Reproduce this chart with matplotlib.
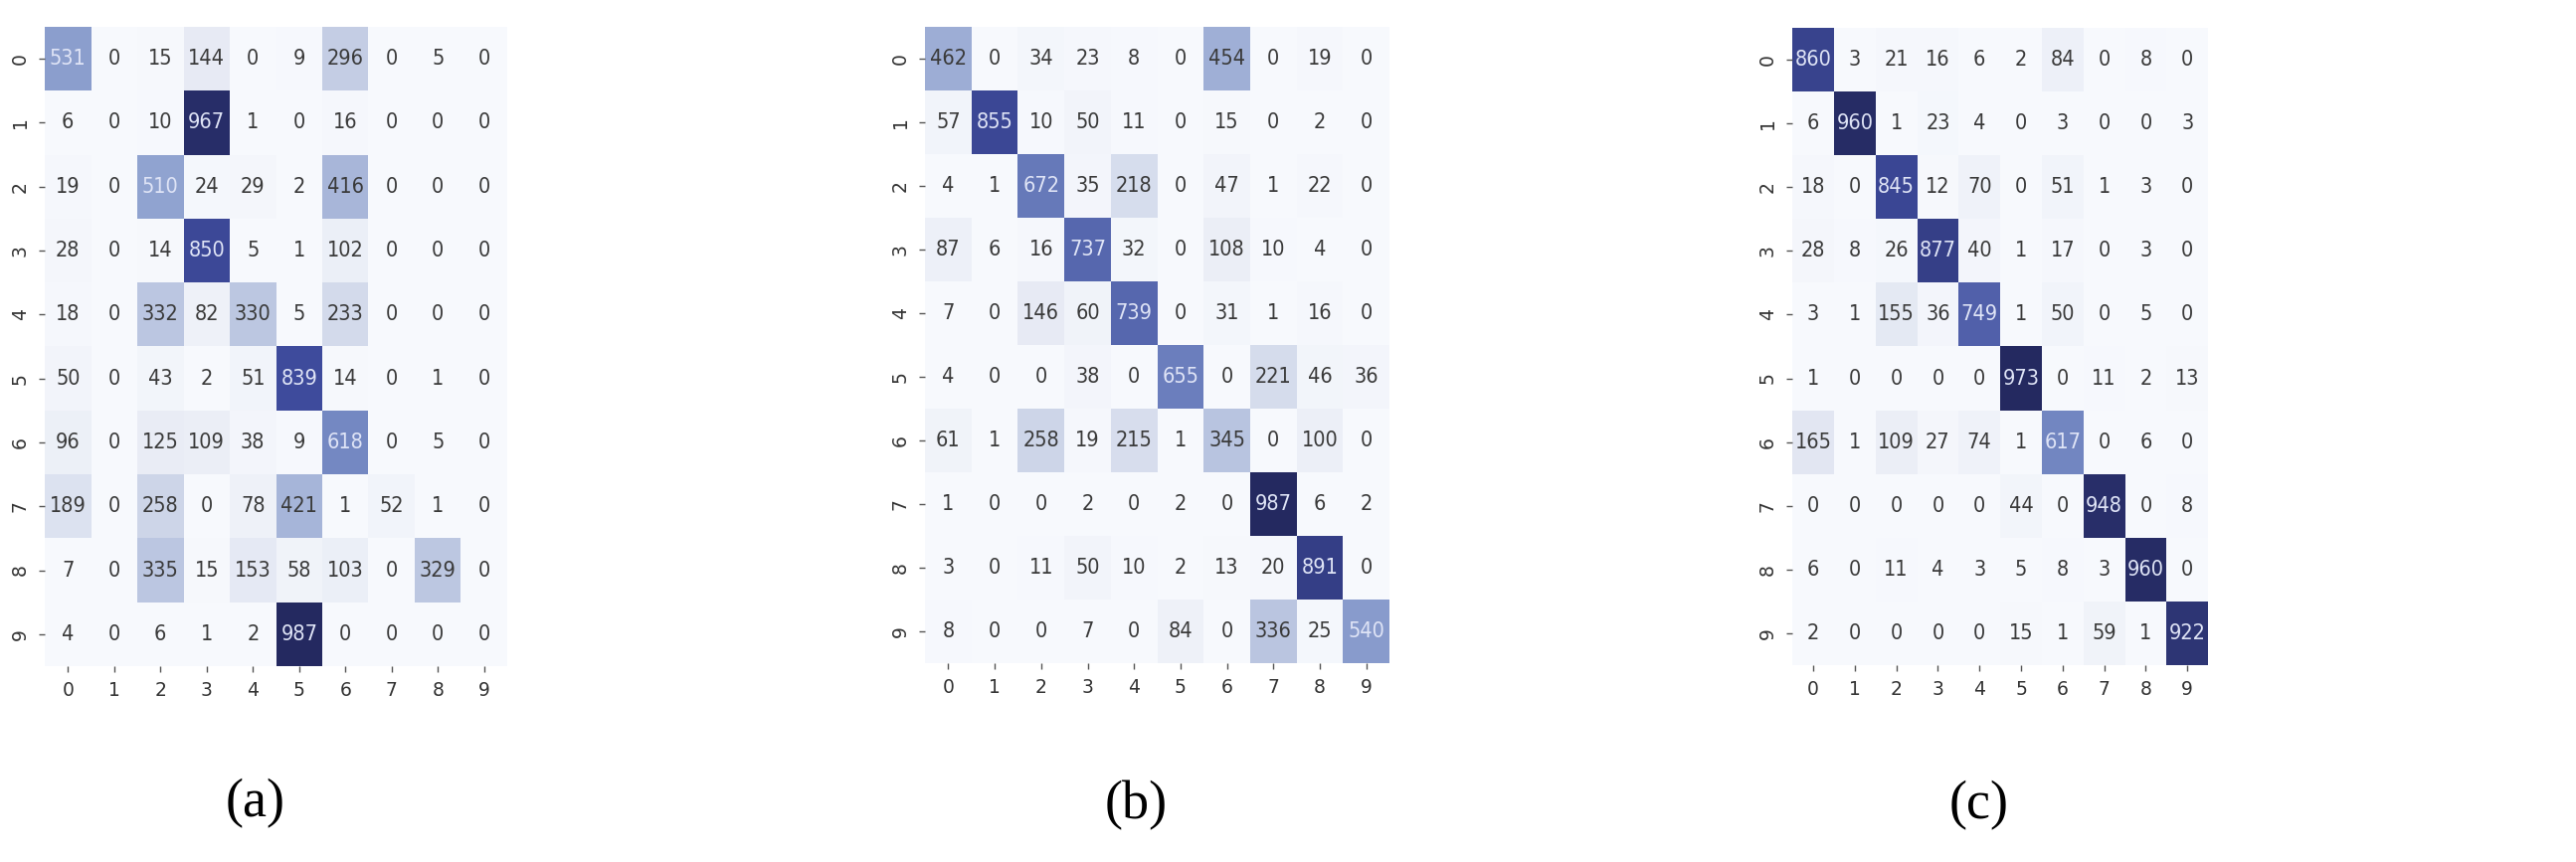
import numpy as np
import matplotlib
matplotlib.use("Agg")
import matplotlib.pyplot as plt
from matplotlib.colors import LinearSegmentedColormap
import seaborn as sns

labels = [str(i) for i in range(10)]

cm_a = [
    [531, 0, 15, 144, 0, 9, 296, 0, 5, 0],
    [6, 0, 10, 967, 1, 0, 16, 0, 0, 0],
    [19, 0, 510, 24, 29, 2, 416, 0, 0, 0],
    [28, 0, 14, 850, 5, 1, 102, 0, 0, 0],
    [18, 0, 332, 82, 330, 5, 233, 0, 0, 0],
    [50, 0, 43, 2, 51, 839, 14, 0, 1, 0],
    [96, 0, 125, 109, 38, 9, 618, 0, 5, 0],
    [189, 0, 258, 0, 78, 421, 1, 52, 1, 0],
    [7, 0, 335, 15, 153, 58, 103, 0, 329, 0],
    [4, 0, 6, 1, 2, 987, 0, 0, 0, 0],
]

cm_b = [
    [462, 0, 34, 23, 8, 0, 454, 0, 19, 0],
    [57, 855, 10, 50, 11, 0, 15, 0, 2, 0],
    [4, 1, 672, 35, 218, 0, 47, 1, 22, 0],
    [87, 6, 16, 737, 32, 0, 108, 10, 4, 0],
    [7, 0, 146, 60, 739, 0, 31, 1, 16, 0],
    [4, 0, 0, 38, 0, 655, 0, 221, 46, 36],
    [61, 1, 258, 19, 215, 1, 345, 0, 100, 0],
    [1, 0, 0, 2, 0, 2, 0, 987, 6, 2],
    [3, 0, 11, 50, 10, 2, 13, 20, 891, 0],
    [8, 0, 0, 7, 0, 84, 0, 336, 25, 540],
]

cm_c = [
    [860, 3, 21, 16, 6, 2, 84, 0, 8, 0],
    [6, 960, 1, 23, 4, 0, 3, 0, 0, 3],
    [18, 0, 845, 12, 70, 0, 51, 1, 3, 0],
    [28, 8, 26, 877, 40, 1, 17, 0, 3, 0],
    [3, 1, 155, 36, 749, 1, 50, 0, 5, 0],
    [1, 0, 0, 0, 0, 973, 0, 11, 2, 13],
    [165, 1, 109, 27, 74, 1, 617, 0, 6, 0],
    [0, 0, 0, 0, 0, 44, 0, 948, 0, 8],
    [6, 0, 11, 4, 3, 5, 8, 3, 960, 0],
    [2, 0, 0, 0, 0, 15, 1, 59, 1, 922],
]

captions = ["(a)", "(b)", "(c)"]

cmap = LinearSegmentedColormap.from_list(
    "conf",
    [(0.0, "#f7f9fd"), (0.15, "#e6eaf4"), (0.3, "#c4cde4"),
     (0.5, "#95a7d2"), (0.65, "#6e82bf"), (0.85, "#3e4b9c"), (1.0, "#242960")],
)

fig = plt.figure(figsize=(25.9, 8.67), dpi=100)
fig.patch.set_facecolor("white")

# axes rectangles in figure fraction (left, bottom, width, height)
rects = [
    (0.0174, 0.2272, 0.1795, 0.7417),
    (0.3591, 0.2307, 0.1803, 0.7382),
    (0.6958, 0.2284, 0.1614, 0.7393),
]
cap_pos = [(257 / 2590, 1 - 808 / 867), (1142 / 2590, 1 - 810 / 867), (1990 / 2590, 1 - 810 / 867)]

for data, rect, cap, cpos in zip([cm_a, cm_b, cm_c], rects, captions, cap_pos):
    arr = np.array(data)
    ax = fig.add_axes(rect)
    sns.heatmap(arr, ax=ax, cmap=cmap, cbar=False, annot=True, fmt="d",
                xticklabels=labels, yticklabels=labels, square=False,
                annot_kws={"fontsize": 15.5, "fontstretch": "condensed"})
    ax.set_aspect("auto")
    ax.set_position(rect)
    vmax = arr.max()
    for t, v in zip(ax.texts, arr.flatten()):
        t.set_color("#dfe4f6" if v / vmax > 0.5 else "#3a3a3a")
    ax.tick_params(axis="both", length=4, width=1, color="#555555",
                   labelsize=13.5, labelcolor="#333333", pad=7)
    for lbl in ax.get_yticklabels():
        lbl.set_rotation(90)
        lbl.set_va("center")
    for lbl in ax.get_xticklabels():
        lbl.set_rotation(0)
    fig.text(cpos[0], cpos[1], cap, ha="center", va="center",
             fontsize=39, family=["Liberation Serif", "DejaVu Serif"])

fig.savefig("out.png", dpi=100, facecolor="white")
